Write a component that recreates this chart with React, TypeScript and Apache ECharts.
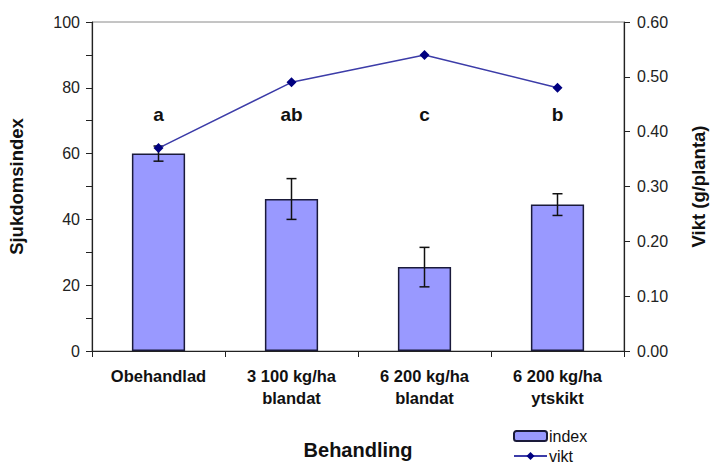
import React, { useEffect, useRef } from "react";
import * as echarts from "echarts";

const categories = ["Obehandlad", "3 100 kg/ha\nblandat", "6 200 kg/ha\nblandat", "6 200 kg/ha\nytskikt"];
const indexValues = [60, 46.2, 25.5, 44.5];
const indexErrors = [2.3, 6.2, 6.0, 3.3];
const viktValues = [0.37, 0.49, 0.54, 0.48];
const letters = ["a", "ab", "c", "b"];
const letterLevel = [72, 72, 72, 72];

const FONT = "Liberation Sans, Arial, sans-serif";

export default function App() {
  const ref = useRef<HTMLDivElement>(null);
  useEffect(() => {
    if (!ref.current) return;
    const chart = echarts.init(ref.current, undefined, { renderer: "svg" });
    const errData = indexValues.map((v, i) => [i, v - indexErrors[i], v + indexErrors[i]]);
    chart.setOption({
      animation: false,
      textStyle: { fontFamily: FONT },
      grid: {
        left: 92,
        right: 86,
        top: 22,
        bottom: 113,
        show: true,
        borderColor: "#8a8a8a",
        borderWidth: 1,
        outerBoundsMode: "none",
        containLabel: false,
      },
      legend: {
        orient: "vertical",
        left: 508,
        top: 423,
        height: 80,
        itemWidth: 33,
        itemHeight: 10,
        itemGap: 4,
        data: ["index", "vikt"],
        textStyle: { fontSize: 16, color: "#111", fontFamily: FONT, padding: [0, 0, 0, -3] },
      },
      xAxis: {
        type: "category",
        data: categories,
        name: "Behandling",
        nameLocation: "middle",
        nameGap: 89,
        nameTextStyle: { fontSize: 20, fontWeight: "bold", color: "#111", fontFamily: FONT },
        axisLine: { lineStyle: { color: "#222", width: 1.2 } },
        axisTick: { show: true, length: 6, lineStyle: { color: "#222" } },
        axisLabel: { fontSize: 16.5, fontWeight: "bold", color: "#111", lineHeight: 22, margin: 14, interval: 0, fontFamily: FONT },
      },
      yAxis: [
        {
          type: "value",
          min: 0,
          max: 100,
          interval: 20,
          name: "Sjukdomsindex",
          nameLocation: "middle",
          nameGap: 66,
          nameRotate: 90,
          nameTextStyle: { fontSize: 18.5, fontWeight: "bold", color: "#111", fontFamily: FONT },
          axisLine: { show: true, lineStyle: { color: "#222", width: 1.2 } },
          axisTick: { show: true, length: 6, lineStyle: { color: "#222" } },
          minorTick: { show: true, splitNumber: 2, length: 6, lineStyle: { color: "#222" } },
          splitLine: { show: false },
          axisLabel: { fontSize: 16, color: "#222", margin: 12, fontFamily: FONT },
        },
        {
          type: "value",
          min: 0,
          max: 0.6,
          interval: 0.1,
          position: "right",
          name: "Vikt (g/planta)",
          nameLocation: "middle",
          nameGap: 65,
          nameRotate: 90,
          nameTextStyle: { fontSize: 18.5, fontWeight: "bold", color: "#111", fontFamily: FONT },
          axisLine: { show: true, lineStyle: { color: "#222", width: 1.2 } },
          axisTick: { show: true, length: 6, lineStyle: { color: "#222" } },
          splitLine: { show: false },
          axisLabel: { fontSize: 16, color: "#222", margin: 13, fontFamily: FONT, formatter: (v: number) => v.toFixed(2) },
        },
      ],
      series: [
        {
          name: "index",
          type: "bar",
          data: indexValues,
          barWidth: "40%",
          itemStyle: { color: "#9999ff", borderColor: "#1a1a3a", borderWidth: 1.5 },
          z: 2,
        },
        {
          name: "err",
          type: "custom",
          data: errData,
          z: 4,
          renderItem: (params: any, api: any) => {
            const x = api.value(0);
            const lo = api.coord([x, api.value(1)]);
            const hi = api.coord([x, api.value(2)]);
            const cap = 5;
            const style = { stroke: "#111", lineWidth: 1.5 };
            return {
              type: "group",
              children: [
                { type: "line", shape: { x1: lo[0], y1: lo[1], x2: hi[0], y2: hi[1] }, style },
                { type: "line", shape: { x1: lo[0] - cap, y1: lo[1], x2: lo[0] + cap, y2: lo[1] }, style },
                { type: "line", shape: { x1: hi[0] - cap, y1: hi[1], x2: hi[0] + cap, y2: hi[1] }, style },
              ],
            };
          },
        },
        {
          name: "letters",
          type: "scatter",
          data: letterLevel,
          symbolSize: 0,
          silent: true,
          itemStyle: { opacity: 1 },
          label: {
            show: true,
            position: "inside",
            formatter: (p: any) => letters[p.dataIndex],
            fontSize: 19,
            fontWeight: "bold",
            color: "#111",
            opacity: 1,
            fontFamily: FONT,
          },
        },
        {
          name: "vikt",
          type: "line",
          yAxisIndex: 1,
          data: viktValues,
          symbol: "diamond",
          symbolSize: 10,
          lineStyle: { color: "#3c3ca8", width: 1.5 },
          itemStyle: { color: "#000080" },
          z: 5,
        },
      ],
    });
    return () => chart.dispose();
  }, []);
  return <div ref={ref} style={{ width: 710, height: 464, position: "absolute", left: 0, top: 0, background: "#fff" }} />;
}
